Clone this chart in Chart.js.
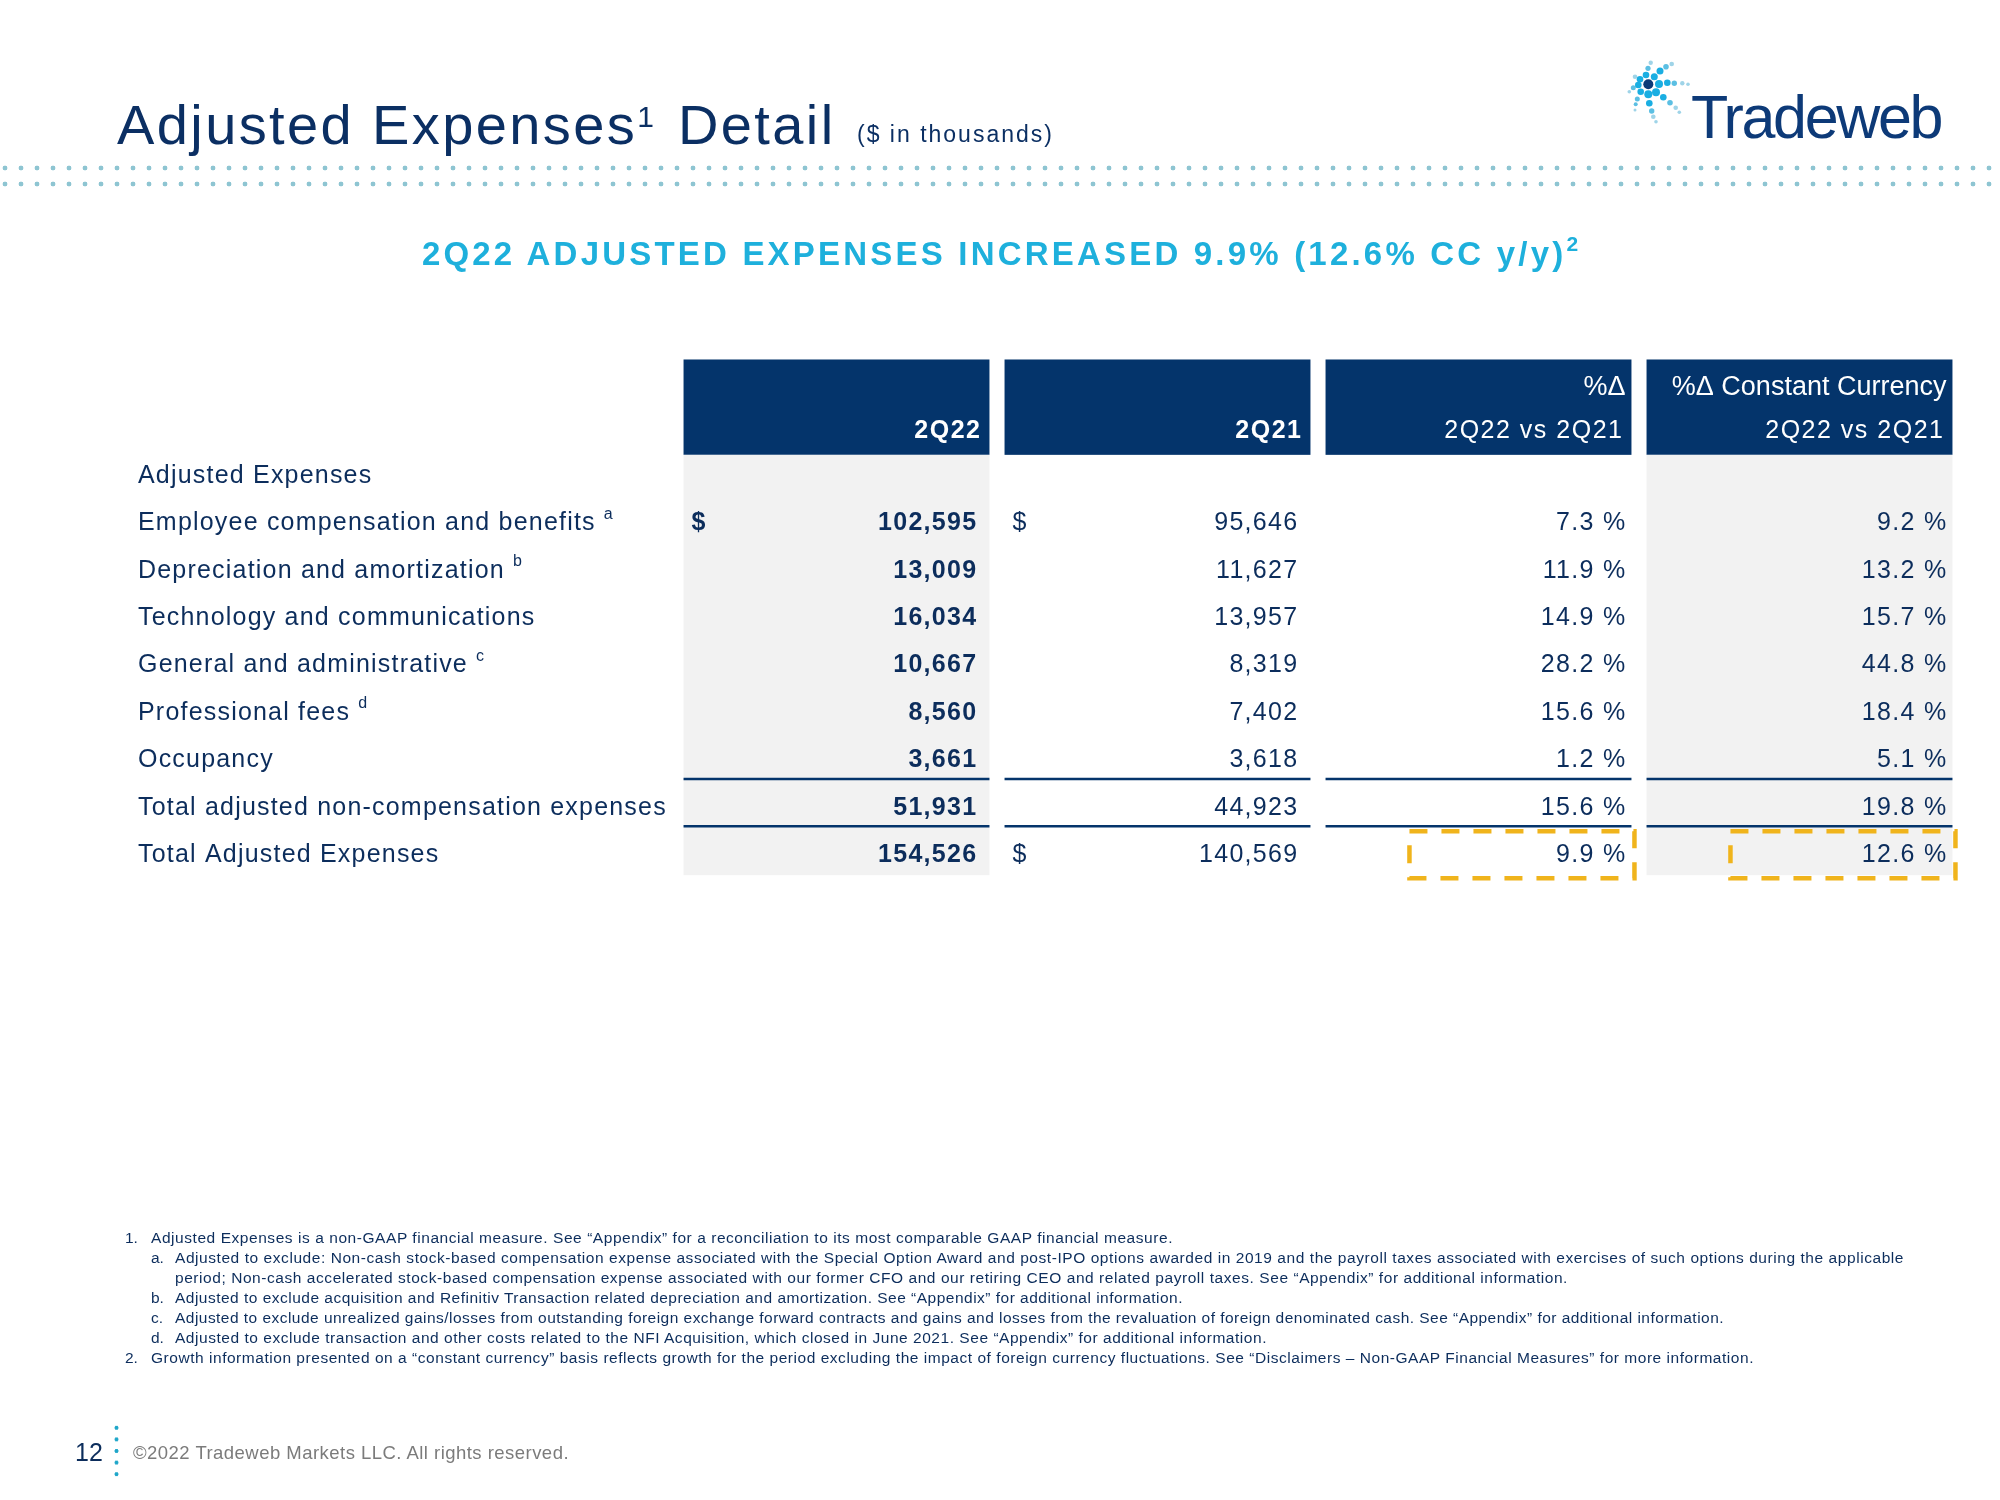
<!DOCTYPE html>
<html>
<head>
<meta charset="utf-8">
<script src="https://cdn.jsdelivr.net/npm/chart.js@4.4.1/dist/chart.umd.min.js"></script>
<style>
  html, body { margin: 0; padding: 0; background: #fff; }
  body { width: 2000px; height: 1500px; position: relative; overflow: hidden;
         font-family: "Liberation Sans", Arial, sans-serif; color: #0c2d5c; }
  #chart { position: absolute; left: 0; top: 0; }
  .abs { position: absolute; white-space: nowrap; line-height: 1; }
  .title { left: 117px; top: 97px; font-size: 56px; letter-spacing: 2.4px; color: #0b2f63; }
  .title .sup { font-size: 30px; position: relative; top: -17px; letter-spacing: 0; margin-right: 24px; }
  .units { left: 857px; top: 123px; font-size: 23px; letter-spacing: 2px; color: #0b2f63; }
  .dots { position: absolute; left: 0; top: 160px; width: 2000px; height: 32px;
          background-image: radial-gradient(circle, #8ec5d2 2.1px, transparent 2.7px);
          background-size: 16px 16px; background-position: -3px 0; }
  .headline { left: 0; width: 2000px; top: 237px; text-align: center; font-size: 33px;
              font-weight: bold; letter-spacing: 3.2px; color: #1eb0dc; }
  .headline .sup { font-size: 21px; position: relative; top: -14px; letter-spacing: 0; }
  .logo { left: 1691px; top: 87px; font-size: 61px; color: #0d3a78; }
  .note { font-size: 15.5px; color: #0c2d5c; }
  .pageno { left: 75px; top: 1440px; font-size: 25px; color: #0c2d5c; }
  .vdots { position: absolute; left: 113px; top: 1422px; width: 7px; height: 58px;
           background-image: radial-gradient(circle, #1fa6c9 1.7px, transparent 2.3px);
           background-size: 7px 11.6px; }
  .copy { left: 133px; top: 1444px; font-size: 18.5px; color: #7b7b7b; }
</style>
</head>
<body>
<canvas id="chart" width="2000" height="1500"></canvas>

<div class="abs title">Adjusted Expenses<span class="sup">1</span>Detail</div>
<div class="abs units">($ in thousands)</div>
<div class="dots"></div>
<div class="abs headline">2Q22 ADJUSTED EXPENSES INCREASED 9.9% (12.6% CC y/y)<span class="sup">2</span></div>

<svg style="position:absolute;left:1620px;top:50px" width="80" height="80" viewBox="1620 50 80 80">
  <g fill="#9fd4e8">
    <circle cx="1650.7" cy="62.7" r="2.2"/><circle cx="1671.7" cy="64" r="2.3"/>
    <circle cx="1682.3" cy="83.3" r="2.2"/><circle cx="1688" cy="84.3" r="1.8"/>
    <circle cx="1675.7" cy="107.7" r="2.3"/><circle cx="1679.3" cy="112.3" r="1.8"/>
    <circle cx="1653.3" cy="116.7" r="2.3"/><circle cx="1656" cy="121.7" r="1.8"/>
    <circle cx="1635" cy="110" r="1.5"/><circle cx="1629.3" cy="91.7" r="1.8"/>
    <circle cx="1635" cy="76.7" r="2.3"/>
  </g>
  <g fill="#5bbfe3">
    <circle cx="1648" cy="68.3" r="2.6"/><circle cx="1666" cy="66.7" r="2.8"/>
    <circle cx="1674.3" cy="83.3" r="2.7"/><circle cx="1670" cy="102.7" r="2.8"/>
    <circle cx="1651.7" cy="111" r="2.7"/><circle cx="1635.7" cy="104.3" r="2"/>
    <circle cx="1637.3" cy="99" r="2.5"/><circle cx="1633.3" cy="87.7" r="2.5"/>
  </g>
  <g fill="#1aaee2">
    <circle cx="1646" cy="75" r="3.3"/><circle cx="1660" cy="71" r="3.5"/>
    <circle cx="1654.3" cy="76.7" r="3.5"/><circle cx="1659" cy="84" r="4"/>
    <circle cx="1667.3" cy="82.7" r="3.3"/><circle cx="1656" cy="92.3" r="4"/>
    <circle cx="1663.3" cy="97.3" r="3.3"/><circle cx="1648.3" cy="94.3" r="4"/>
    <circle cx="1649.3" cy="103.3" r="3.3"/><circle cx="1640.7" cy="91.7" r="3.3"/>
    <circle cx="1638.3" cy="85" r="3.3"/><circle cx="1640" cy="79.3" r="3.3"/>
  </g>
  <circle cx="1648.3" cy="84.3" r="5" fill="#0d3a78"/>
</svg>
<div class="abs logo" data-end="1941">Tradeweb</div>

<div class="abs note" style="left:125px;top:1230px">1.</div>
<div class="abs note" style="left:151px;top:1230px" data-end="1173">Adjusted Expenses is a non-GAAP financial measure. See “Appendix” for a reconciliation to its most comparable GAAP financial measure.</div>
<div class="abs note" style="left:151px;top:1250px">a.</div>
<div class="abs note" style="left:175px;top:1250px" data-end="1904">Adjusted to exclude: Non-cash stock-based compensation expense associated with the Special Option Award and post-IPO options awarded in 2019 and the payroll taxes associated with exercises of such options during the applicable</div>
<div class="abs note" style="left:175px;top:1270px" data-end="1568">period; Non-cash accelerated stock-based compensation expense associated with our former CFO and our retiring CEO and related payroll taxes. See “Appendix” for additional information.</div>
<div class="abs note" style="left:151px;top:1290px">b.</div>
<div class="abs note" style="left:175px;top:1290px" data-end="1183">Adjusted to exclude acquisition and Refinitiv Transaction related depreciation and amortization. See “Appendix” for additional information.</div>
<div class="abs note" style="left:151px;top:1310px">c.</div>
<div class="abs note" style="left:175px;top:1310px" data-end="1724">Adjusted to exclude unrealized gains/losses from outstanding foreign exchange forward contracts and gains and losses from the revaluation of foreign denominated cash. See “Appendix” for additional information.</div>
<div class="abs note" style="left:151px;top:1330px">d.</div>
<div class="abs note" style="left:175px;top:1330px" data-end="1267">Adjusted to exclude transaction and other costs related to the NFI Acquisition, which closed in June 2021. See “Appendix” for additional information.</div>
<div class="abs note" style="left:125px;top:1350px">2.</div>
<div class="abs note" style="left:151px;top:1350px" data-end="1754">Growth information presented on a “constant currency” basis reflects growth for the period excluding the impact of foreign currency fluctuations. See “Disclaimers – Non-GAAP Financial Measures” for more information.</div>

<div class="abs pageno">12</div>
<div class="vdots"></div>
<div class="abs copy" data-end="569">©2022 Tradeweb Markets LLC. All rights reserved.</div>

<script>
// table columns
const columnKeys = ['2Q22', '2Q21', 'chg', 'chgCC'];
const headerLine1 = ['', '', '%Δ', '%Δ Constant Currency'];
const headerLine2 = ['2Q22', '2Q21', '2Q22 vs 2Q21', '2Q22 vs 2Q21'];

// table rows
const rowLabels = [
  'Adjusted Expenses',
  'Employee compensation and benefits',
  'Depreciation and amortization',
  'Technology and communications',
  'General and administrative',
  'Professional fees',
  'Occupancy',
  'Total adjusted non-compensation expenses',
  'Total Adjusted Expenses'
];
const rowNotes = ['', 'a', 'b', '', 'c', 'd', '', '', ''];

// values ($ in thousands, % change)
const expenses2Q22 = [null, 102595, 13009, 16034, 10667, 8560, 3661, 51931, 154526];
const expenses2Q21 = [null, 95646, 11627, 13957, 8319, 7402, 3618, 44923, 140569];
const pctChange = [null, 7.3, 11.9, 14.9, 28.2, 15.6, 1.2, 15.6, 9.9];
const pctChangeCC = [null, 9.2, 13.2, 15.7, 44.8, 18.4, 5.1, 19.8, 12.6];

const dollarRows = [[1], [1, 8], [], []];
const ruleAfterRows = [6, 7];
const highlightRows = [8];

const columnValues = [expenses2Q22, expenses2Q21, pctChange, pctChangeCC];

const NAVY = '#04346b';
const TEXT = '#0c2d5c';
const SHADE = '#f2f2f2';
const GOLD = '#f0b41c';

function setFont(ctx, size, bold, spacing) {
  ctx.font = (bold ? 'bold ' : '') + size + 'px "Liberation Sans", Arial, sans-serif';
  ctx.letterSpacing = spacing + 'px';
}

function geometry(chart) {
  const x = chart.scales.x, y = chart.scales.y;
  const rowH = y.getPixelForValue(1) - y.getPixelForValue(0);
  const boxW = (x.getPixelForValue(1) - x.getPixelForValue(0)) * 0.953;
  return { x, y, rowH, boxW, y0: y.getPixelForValue(0) };
}

const tablePlugin = {
  id: 'tableCells',
  beforeDatasetsDraw(chart) {
    const ctx = chart.ctx;
    const { x, y, rowH, boxW, y0 } = geometry(chart);
    const headTop = y0 - 2.45 * rowH;
    const headBot = y0 - 0.44 * rowH;
    const bodyBot = y.getPixelForValue(rowLabels.length - 1) + 0.42 * rowH;
    ctx.save();
    ctx.textBaseline = 'middle';
    columnKeys.forEach((k, c) => {
      const left = x.getPixelForValue(c) - boxW / 2;
      const right = left + boxW;
      ctx.fillStyle = NAVY;
      ctx.fillRect(left, headTop, boxW, headBot - headTop);
      if (c === 0 || c === 3) {
        ctx.fillStyle = SHADE;
        ctx.fillRect(left, headBot, boxW, bodyBot - headBot);
      }
      ctx.strokeStyle = NAVY;
      ctx.lineWidth = 2.5;
      ruleAfterRows.forEach(r => {
        const ly = y.getPixelForValue(r) + 0.39 * rowH;
        ctx.beginPath();
        ctx.moveTo(left, ly);
        ctx.lineTo(right, ly);
        ctx.stroke();
      });
      ctx.fillStyle = '#fff';
      ctx.textAlign = 'right';
      if (headerLine1[c]) {
        setFont(ctx, 27, false, 0);
        ctx.fillText(headerLine1[c], right - 6, y0 - 1.86 * rowH);
      }
      setFont(ctx, 25, c < 2, 1.5);
      ctx.fillText(headerLine2[c], right - 8, y0 - 0.95 * rowH);
    });

    // row labels on the left
    ctx.fillStyle = TEXT;
    ctx.textAlign = 'left';
    rowLabels.forEach((label, i) => {
      const ly = y.getPixelForValue(i);
      setFont(ctx, 25, false, 1.2);
      ctx.fillText(label, 138, ly);
      if (rowNotes[i]) {
        const w = ctx.measureText(label).width;
        setFont(ctx, 16, false, 0);
        ctx.fillText(rowNotes[i], 138 + w + 8, ly - 9);
      }
    });
    ctx.restore();
  },
  afterDatasetsDraw(chart) {
    const ctx = chart.ctx;
    const { boxW } = geometry(chart);
    ctx.save();
    ctx.textBaseline = 'middle';
    ctx.fillStyle = TEXT;
    columnValues.forEach((vals, c) => {
      const ds = chart.data.datasets[c];
      chart.getDatasetMeta(c).data.forEach((el, j) => {
        const i = rowLabels.indexOf(ds.data[j].y);
        const v = vals[i];
        const left = el.x - boxW / 2;
        const right = el.x + boxW / 2;
        const txt = c < 2 ? v.toLocaleString('en-US') : v.toFixed(1) + ' %';
        setFont(ctx, 25, c === 0, 1.3);
        ctx.textAlign = 'right';
        ctx.fillText(txt, right - (c < 2 ? 12 : 5), el.y);
        if (dollarRows[c].includes(i)) {
          ctx.textAlign = 'left';
          ctx.fillText('$', left + 8, el.y);
        }
        if (c >= 2 && highlightRows.includes(i)) {
          ctx.save();
          ctx.strokeStyle = GOLD;
          ctx.lineWidth = 4.5;
          ctx.setLineDash([18, 14]);
          ctx.strokeRect(right + 3 - 225, el.y - 24, 225, 47);
          ctx.restore();
        }
      });
    });
    ctx.restore();
  }
};

new Chart(document.getElementById('chart'), {
  type: 'line',
  data: {
    datasets: columnValues.map((vals, c) => ({
      label: columnKeys[c],
      data: rowLabels
        .map((r, i) => ({ x: columnKeys[c], y: r, v: vals[i] }))
        .filter(d => d.v != null),
      pointRadius: 0,
      showLine: false
    }))
  },
  options: {
    responsive: false,
    animation: false,
    devicePixelRatio: 1,
    layout: { padding: { left: 676, right: 40, top: 452, bottom: 621 } },
    plugins: { legend: { display: false }, tooltip: { enabled: false } },
    scales: {
      x: { type: 'category', labels: columnKeys, offset: true, display: false },
      y: { type: 'category', labels: rowLabels, offset: true, display: false }
    }
  },
  plugins: [tablePlugin]
});

// stretch a few text lines to the widths seen in the slide
document.querySelectorAll('[data-end]').forEach(el => {
  const target = +el.dataset.end - el.offsetLeft;
  const w = el.getBoundingClientRect().width;
  const n = el.textContent.length;
  el.style.letterSpacing = ((target - w) / n) + 'px';
});
</script>
</body>
</html>
